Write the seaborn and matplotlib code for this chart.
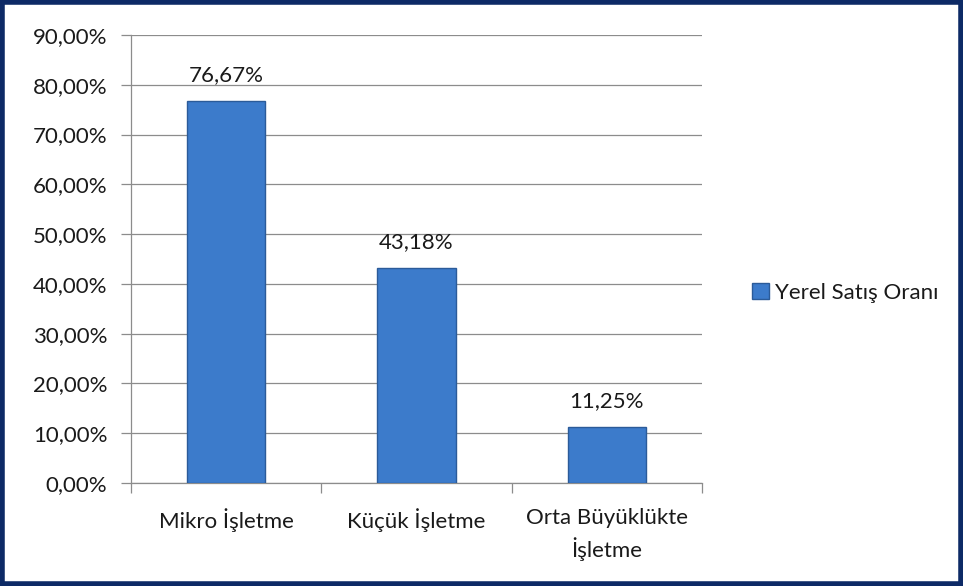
import matplotlib
matplotlib.use("Agg")
import matplotlib.pyplot as plt
import matplotlib.patches as mpatches
from matplotlib.ticker import FuncFormatter, MultipleLocator
import pandas as pd
import seaborn as sns

# %% Data
categories = ["Mikro İşletme", "Küçük İşletme", "Orta Büyüklükte\nİşletme"]
values = [76.67, 43.18, 11.25]
series_name = "Yerel Satış Oranı"

df = pd.DataFrame({"kategori": categories, "oran": values})

# %% Style
sns.set_style("white", {"xtick.bottom": True, "ytick.left": True})
plt.rcParams["font.family"] = ["Lato", "DejaVu Sans"]

BAR_COLOR = "#3c7bcb"
EDGE_COLOR = "#2b5b99"
TEXT_COLOR = "#1a1a1a"
GRID_COLOR = "#8c8c8c"
FS = 16

fig = plt.figure(figsize=(9.63, 5.86), dpi=100)
ax = fig.add_axes([0.136, 0.1758, 0.593, 0.7645])

sns.barplot(data=df, x="kategori", y="oran", color=BAR_COLOR, saturation=1, width=0.41,
            edgecolor=EDGE_COLOR, linewidth=1.0, ax=ax, zorder=3)

ax.set_xlim(-0.5, len(categories) - 0.5)
ax.set_ylim(0, 90)
ax.yaxis.set_major_locator(MultipleLocator(10))
ax.yaxis.set_major_formatter(FuncFormatter(lambda v, _: f"{v:.2f}%".replace(".", ",")))
ax.grid(axis="y", color=GRID_COLOR, linewidth=0.9, zorder=0)
ax.set_axisbelow(True)

# category tick marks at the boundaries, labels centred under bars
ax.set_xticks(list(range(len(categories))))
ax.set_xticklabels(categories, fontsize=FS, color=TEXT_COLOR, linespacing=1.45)
ax.tick_params(axis="x", which="major", bottom=True, length=0, pad=18)
ax.set_xticks([i - 0.5 for i in range(len(categories) + 1)], minor=True)
ax.tick_params(axis="x", which="minor", bottom=True, length=7, color=GRID_COLOR, width=0.9)
ax.tick_params(axis="y", left=True, length=7, color=GRID_COLOR, width=0.9,
               labelsize=FS, labelcolor=TEXT_COLOR, pad=10)

ax.set_xlabel("")
ax.set_ylabel("")
for side in ["top", "right"]:
    ax.spines[side].set_visible(False)
for side in ["left", "bottom"]:
    ax.spines[side].set_color(GRID_COLOR)
    ax.spines[side].set_linewidth(0.9)

# data labels
for i, v in enumerate(values):
    ax.text(i, v + 4.0, f"{v:.2f}%".replace(".", ","), ha="center", va="baseline",
            fontsize=FS, color=TEXT_COLOR)

# legend
handle = mpatches.Patch(facecolor=BAR_COLOR, edgecolor=EDGE_COLOR, label=series_name)
fig.legend(handles=[handle], loc="center left", bbox_to_anchor=(0.772, 0.5),
           frameon=False, fontsize=FS, handlelength=0.75, handleheight=0.75,
           handletextpad=0.25, borderaxespad=0, labelcolor=TEXT_COLOR)

# dark outer border
fig.patches.append(mpatches.Rectangle((0.002, 0.003), 0.996, 0.994, transform=fig.transFigure,
                                      fill=False, edgecolor="#0d2a66", linewidth=4))

fig.savefig("out.png", dpi=100)
